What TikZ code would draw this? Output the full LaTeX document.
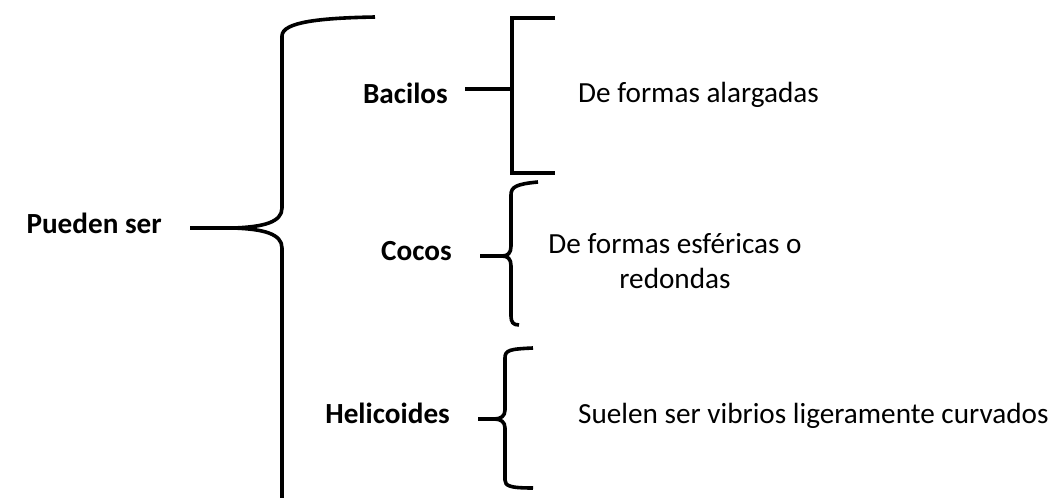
\documentclass[tikz,border=0pt]{standalone}
\usepackage{fontspec}
\setmainfont{Carlito}
\usetikzlibrary{positioning}

\begin{document}
\begin{tikzpicture}[x=1pt,y=-1pt,brace/.style={line width=3.6pt},kind/.style={font=\fontsize{29.2}{35}\selectfont\bfseries, inner sep=0pt, anchor=base east},desc/.style={font=\fontsize{29.2}{35}\selectfont, inner sep=0pt, align=center}]
\useasboundingbox (0,0) rectangle (1061,498);
\node[kind] (pueden) at (162,233) {Pueden ser};
\node[kind] (bacilos) at (448,103) {Bacilos};
\node[kind] (cocos) at (452,260) {Cocos};
\node[kind] (helicoides) at (450,423) {Helicoides};
\node[desc, anchor=base west] (alargadas) at (578,102) {De formas alargadas};
\node[desc, anchor=base] (esfericas) at (675,288) {De formas esféricas o\\redondas};
\node[desc, anchor=base west] (vibrios) at (578,423) {Suelen ser vibrios ligeramente curvados};
\coordinate (tipA) at (233,228); \coordinate (tipB) at (512,89);
\coordinate (tipC) at (502,256); \coordinate (tipD) at (494,419);
% llave grande
\draw[brace] (pueden.east |- tipA) ++(28,0) -- (tipA) .. controls (264,227) and (282,222) .. (282,208) -- (282,36) .. controls (282,22) and (320,18) .. (375,17);
\draw[brace] (tipA) .. controls (264,229) and (282,234) .. (282,248) -- (282,498);
% corchete de los bacilos
\draw[brace] (bacilos.east |- tipB) ++(17,0) -- (tipB);
\draw[brace] (555,18) -- (512,18) -- (512,173) -- (555,173);
% llaves de cocos y helicoides
\draw[brace] (cocos.east |- tipC) ++(28,0) -- (tipC) .. controls (508,256) and (511,253) .. (511,246) -- (511,195) .. controls (511,187) and (516,184) .. (538,182);
\draw[brace] (tipC) .. controls (508,256) and (511,259) .. (511,266) -- (511,316) .. controls (511,322) and (513,325) .. (519,325);
\draw[brace] (helicoides.east |- tipD) ++(28,0) -- (tipD) .. controls (501,419) and (505,416) .. (505,410) -- (505,358) .. controls (505,350) and (510,349) .. (533,348);
\draw[brace] (tipD) .. controls (501,419) and (505,422) .. (505,428) -- (505,480) .. controls (505,486) and (510,488) .. (533,488);
\end{tikzpicture}
\end{document}
